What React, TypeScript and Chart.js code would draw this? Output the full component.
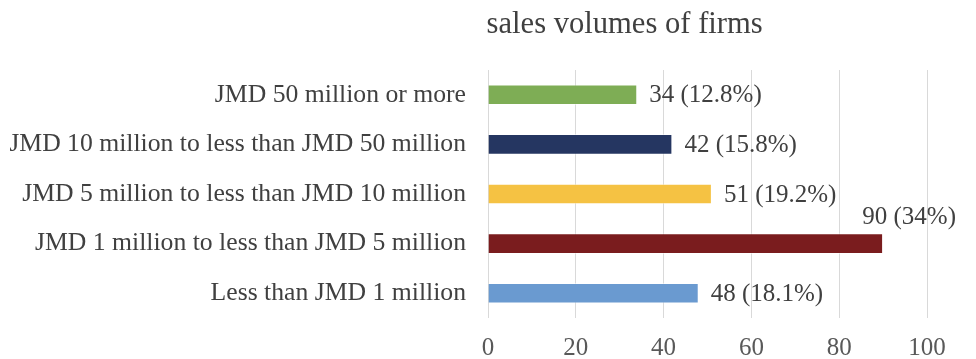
import React, { useEffect, useRef } from "react";
import { Chart, registerables } from "chart.js";

Chart.register(...registerables);

const categories = [
  "JMD 50 million or more",
  "JMD 10 million to less than JMD 50 million",
  "JMD 5 million to less than JMD 10 million",
  "JMD 1 million to less than JMD 5 million",
  "Less than JMD 1 million",
];
const counts = [34, 42, 51, 90, 48];
const percents = ["12.8%", "15.8%", "19.2%", "34%", "18.1%"];
const barColors = ["#7EAD55", "#253661", "#F5C243", "#7A1C1E", "#6A9AD0"];
const xTicks = [0, 20, 40, 60, 80, 100];
const titleText = "sales volumes of firms";

const FONT = "'Liberation Serif', 'Times New Roman', serif";

const labelPlugin = {
  id: "valueLabels",
  afterDatasetsDraw(chart: any) {
    const ctx = chart.ctx;
    const meta = chart.getDatasetMeta(0);
    ctx.save();
    ctx.font = `25px ${FONT}`;
    ctx.fillStyle = "#404040";
    meta.data.forEach((bar: any, i: number) => {
      const text = `${counts[i]} (${percents[i]})`;
      const w = ctx.measureText(text).width;
      const x = bar.x + 12;
      if (x + w > chart.width - 10) {
        ctx.textAlign = "right";
        ctx.textBaseline = "middle";
        ctx.fillText(text, chart.width - 20, bar.y - 26);
      } else {
        ctx.textAlign = "left";
        ctx.textBaseline = "middle";
        ctx.fillText(text, x, bar.y + 1);
      }
    });
    // title
    ctx.font = `30.6px ${FONT}`;
    ctx.textAlign = "center";
    ctx.textBaseline = "alphabetic";
    ctx.fillStyle = "#404040";
    ctx.fillText(titleText, chart.width * 0.64, 33);
    ctx.restore();
  },
};

export default function App() {
  const ref = useRef<HTMLCanvasElement>(null);
  useEffect(() => {
    document.body.style.margin = "0";
    const chart = new Chart(ref.current!, {
      type: "bar",
      data: {
        labels: categories,
        datasets: [
          {
            data: counts,
            backgroundColor: barColors,
            borderColor: "rgba(255,255,255,0.5)",
            borderWidth: 1,
            categoryPercentage: 0.5,
            barPercentage: 0.83,
          },
        ],
      },
      options: {
        indexAxis: "y",
        animation: false,
        responsive: false,
        maintainAspectRatio: false,
        layout: { padding: { top: 70, left: 10, right: 49, bottom: 0 } },
        plugins: {
          legend: { display: false },
          tooltip: { enabled: false },
          title: { display: false },
        },
        scales: {
          x: {
            min: 0,
            max: 100,
            afterBuildTicks: (scale: any) => {
              scale.ticks = xTicks.map((v) => ({ value: v }));
            },
            afterFit: (scale: any) => {
              scale.height = 41;
            },
            grid: { color: "#D9D9D9", lineWidth: 1, drawTicks: false },
            border: { display: false },
            ticks: {
              padding: 15,
              color: "#595959",
              font: { family: FONT, size: 25 },
              maxRotation: 0,
            },
          },
          y: {
            afterFit: (scale: any) => {
              scale.width = 478;
            },
            grid: { display: false, drawTicks: false },
            border: { display: false },
            ticks: {
              padding: 22,
              color: "#404040",
              font: { family: FONT, size: 25.7 },
            },
          },
        },
      },
      plugins: [labelPlugin],
    } as any);
    return () => chart.destroy();
  }, []);
  return <canvas ref={ref} width={976} height={359} style={{ display: "block" }} />;
}
